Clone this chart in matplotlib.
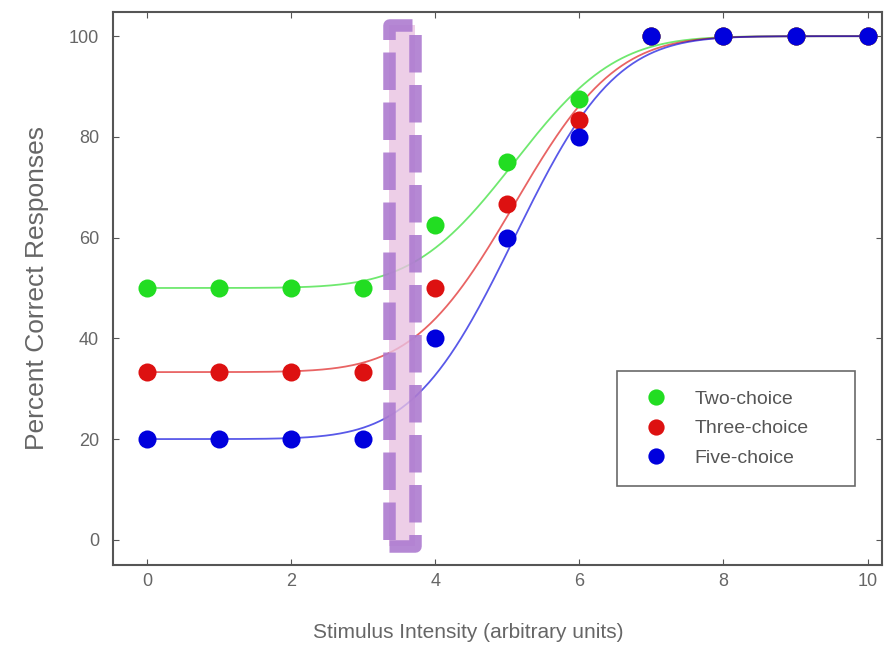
import math
import numpy as np
import matplotlib
matplotlib.use("Agg")
import matplotlib.pyplot as plt
from matplotlib.patches import Rectangle

# ---- data ----
intensity = [0, 1, 2, 3, 4, 5, 6, 7, 8, 9, 10]
two_choice = [50, 50, 50, 50, 62.5, 75, 87.5, 100, 100, 100, 100]
three_choice = [33.3, 33.3, 33.3, 33.3, 50, 66.7, 83.3, 100, 100, 100, 100]
five_choice = [20, 20, 20, 20, 40, 60, 80, 100, 100, 100, 100]
series_labels = ["Two-choice", "Three-choice", "Five-choice"]
guess_rates = [50, 33.3, 20]
fit_mean = 5.1
fit_sd = 1.1
xticks = [0, 2, 4, 6, 8, 10]
yticks = [0, 20, 40, 60, 80, 100]
highlight_x = (3.36, 3.72)
highlight_y = (-1.2, 102.2)

colors = ["#22dd22", "#dd1111", "#0000dd"]

plt.rcParams['font.family'] = ['Liberation Sans', 'DejaVu Sans']

fig = plt.figure(figsize=(8.92, 6.51), dpi=100)
ax = fig.add_axes([113/892, 1 - 565/651, (882-113)/892, (565-12)/651])

xs = np.linspace(0, 10, 400)
erf = np.vectorize(math.erf)
def psycho(x, g):
    return g + (100 - g) * 0.5 * (1 + erf((x - fit_mean) / (fit_sd * math.sqrt(2))))

for lab, c, g in zip(series_labels, colors, guess_rates):
    ax.plot(xs, psycho(xs, g), color=c, lw=1.3, alpha=0.65, zorder=2)

for data, lab, c in zip([two_choice, three_choice, five_choice], series_labels, colors):
    ax.plot(intensity, data, 'o', color=c, ms=13, mec='none', label=lab, zorder=3)

# highlight box
w = highlight_x[1] - highlight_x[0]
h = highlight_y[1] - highlight_y[0]
ax.add_patch(Rectangle((highlight_x[0], highlight_y[0]), w, h,
                       facecolor="#e9c2e2", alpha=0.8, edgecolor='none', zorder=4))
ax.add_patch(Rectangle((highlight_x[0], highlight_y[0]), w, h,
                       facecolor='none', edgecolor="#ad7bd0", alpha=0.9,
                       lw=9, linestyle=(0, (3.0, 1.0)), joinstyle='round',
                       capstyle='butt', zorder=4))

ax.set_xlim(-0.47, 10.2)
ax.set_ylim(-5, 104.8)
ax.set_xticks(xticks)
ax.set_yticks(yticks)
ax.tick_params(direction='in', top=True, right=True, length=4, colors='#555555',
               labelcolor='#666666', labelsize=13)
ax.tick_params(axis='x', pad=6)
ax.tick_params(axis='y', pad=10)
for s in ax.spines.values():
    s.set_color('#555555')
    s.set_linewidth(1.5)

ax.set_xlabel("Stimulus Intensity (arbitrary units)", fontsize=15, color='#666666')
ax.xaxis.set_label_coords((468 - 113) / 769, -(633 - 565) / 553 - 0.0, transform=ax.transAxes)
ax.xaxis.label.set_va('center')
ax.set_ylabel("Percent Correct Responses", fontsize=19, color='#666666', labelpad=14)

leg = ax.legend(loc='center', frameon=True,
                fontsize=14, labelcolor='#555555', borderpad=1.0, handletextpad=1.0,
                labelspacing=0.6, fancybox=False, markerscale=0.9,
                bbox_to_anchor=(617/892, 1 - 490/651, (855-617)/892, (490-367)/651),
                bbox_transform=fig.transFigure, mode='expand', borderaxespad=0)
leg.get_frame().set_edgecolor('#444444')
leg.get_frame().set_linewidth(1.2)
leg.set_zorder(5)

fig.savefig("out.png", dpi=100)
